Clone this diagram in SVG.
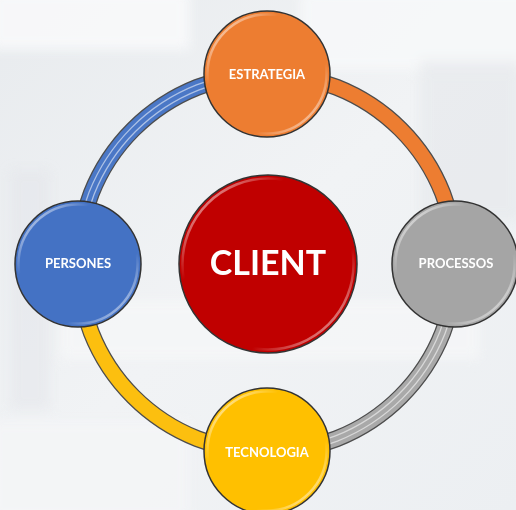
<svg xmlns="http://www.w3.org/2000/svg" width="516" height="510" viewBox="0 0 516 510">
<defs>
<linearGradient id="bg" x1="0" y1="0" x2="1" y2="1">
<stop offset="0" stop-color="#e8ebee"/>
<stop offset="0.5" stop-color="#f1f3f5"/>
<stop offset="1" stop-color="#eceff2"/>
</linearGradient>
<linearGradient id="rim" x1="0" y1="0" x2="1" y2="1">
<stop offset="0" stop-color="#fff" stop-opacity="0.9"/>
<stop offset="0.3" stop-color="#fff" stop-opacity="0"/>
<stop offset="0.7" stop-color="#fff" stop-opacity="0"/>
<stop offset="1" stop-color="#fff" stop-opacity="0.85"/>
</linearGradient>
<filter id="blur" x="-20%" y="-20%" width="140%" height="140%"><feGaussianBlur stdDeviation="6"/></filter>
<filter id="sh" x="-20%" y="-20%" width="140%" height="140%"><feGaussianBlur stdDeviation="2"/></filter>
</defs>
<style>
.ol{fill:none;stroke:#4d4d4d;stroke-width:17}
.band{fill:none;stroke-width:14.5}
.stripe{fill:none;stroke:#fff;stroke-width:1.3;stroke-opacity:0.55}
.node{stroke:#333;stroke-width:1.5}
.bevel{fill:none;stroke:url(#rim);stroke-width:2.5}
.lbl{font-family:Lato,"Open Sans","Liberation Sans",sans-serif;font-weight:700;fill:#fff;text-anchor:middle}
.sm{font-size:13px}
</style>
<rect width="516" height="510" fill="url(#bg)"/>
<g filter="url(#blur)" opacity="0.8">
<rect x="-10" y="-10" width="200" height="60" fill="#fafbfc"/>
<rect x="10" y="170" width="40" height="240" fill="#e2e5e9" opacity="0.6"/>
<rect x="300" y="-10" width="230" height="80" fill="#f8f9fa"/>
<rect x="420" y="60" width="100" height="160" fill="#e4e7ea" opacity="0.7"/>
<rect x="60" y="300" width="420" height="60" fill="#f6f7f8"/>
<rect x="-10" y="420" width="200" height="100" fill="#f4f5f7"/>
</g>
<g id="connectors">
<path class="ol" d="M78 263 A189 189 0 0 1 267 74"/>
<path class="band" stroke="#4a77c6" d="M78 263 A189 189 0 0 1 267 74"/>
<path class="stripe" d="M81 263 A186 186 0 0 1 267 77"/>
<path class="stripe" d="M75.5 263 A191.5 191.5 0 0 1 267 71.5"/>
<path class="ol" d="M267 74 A189 189 0 0 1 456 263"/>
<path class="band" stroke="#ed7d31" d="M267 74 A189 189 0 0 1 456 263"/>
<path class="ol" d="M456 263 A189 189 0 0 1 267 452"/>
<path class="band" stroke="#a9a9a9" d="M456 263 A189 189 0 0 1 267 452"/>
<path class="stripe" stroke-opacity="0.8" d="M453 263 A186 186 0 0 1 267 449"/>
<path class="stripe" stroke-opacity="0.8" d="M458.5 263 A191.5 191.5 0 0 1 267 454.5"/>
<path class="ol" d="M267 452 A189 189 0 0 1 78 263"/>
<path class="band" stroke="#fcbf0f" d="M267 452 A189 189 0 0 1 78 263"/>
</g>
<g id="node-client">
<circle cx="268" cy="264" r="89" fill="#c00000" class="node"/>
<circle cx="268" cy="264" r="85.5" class="bevel"/>
<text x="268" y="275" class="lbl" font-size="34">CLIENT</text>
</g>
<g id="node-estrategia">
<circle cx="267" cy="74" r="63" fill="#ed7d31" class="node"/>
<circle cx="267" cy="74" r="59.5" class="bevel"/>
<text x="267" y="79" class="lbl sm">ESTRATEGIA</text>
</g>
<g id="node-persones">
<circle cx="78" cy="264" r="63" fill="#4472c4" class="node"/>
<circle cx="78" cy="264" r="59.5" class="bevel"/>
<text x="78" y="268" class="lbl sm">PERSONES</text>
</g>
<g id="node-processos">
<circle cx="455" cy="264" r="63" fill="#a5a5a5" class="node"/>
<circle cx="455" cy="264" r="59.5" class="bevel"/>
<text x="456" y="268" class="lbl sm">PROCESSOS</text>
</g>
<g id="node-tecnologia">
<circle cx="267" cy="451" r="63" fill="#ffc000" class="node"/>
<circle cx="267" cy="451" r="59.5" class="bevel"/>
<text x="267" y="457" class="lbl sm">TECNOLOGIA</text>
</g>
</svg>
